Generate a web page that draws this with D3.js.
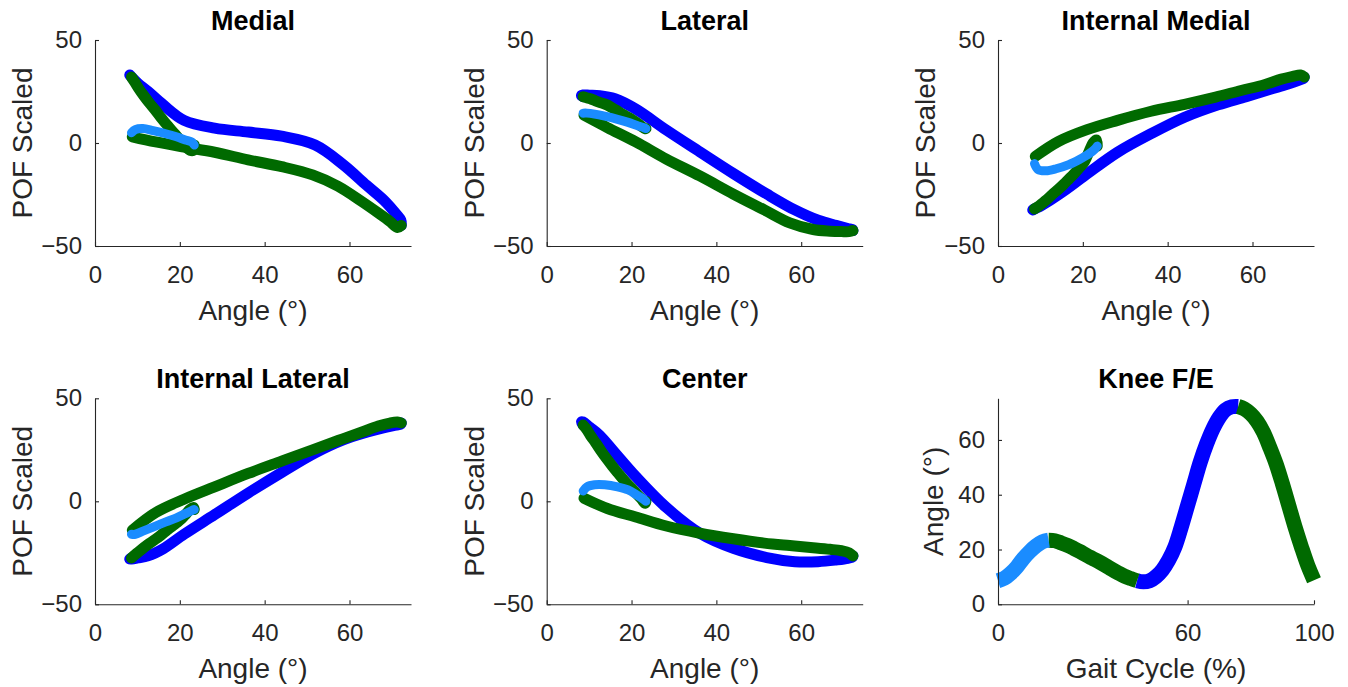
<!DOCTYPE html>
<html>
<head>
<meta charset="utf-8">
<script src="https://cdn.jsdelivr.net/npm/d3@7"></script>
<style>
  body { margin: 0; background: #fff; }
  svg text { font-family: "Liberation Sans", Arial, Helvetica, sans-serif; }
</style>
</head>
<body>
<svg id="fig" width="1348" height="687"></svg>
<script>
// gait cycle samples (%), mean knee flexion (deg) and scaled POF output per sensor
const gaitCycle = [0, 2, 4, 6, 8, 10, 12, 14, 16, 18, 20, 22, 24, 26, 28, 30, 32, 34, 36, 38, 40, 42, 44, 46, 48, 50,
    52, 54, 56, 58, 60, 62, 64, 66, 68, 70, 72, 74, 76, 78, 80, 82, 84, 86, 88, 90, 92, 94, 96, 98, 100];
const kneeAngle = [8.6, 9.5, 11.3, 13.7, 16.7, 19.2, 21.3, 22.8, 23.4, 23.2, 22.4, 21.5, 20.4, 19.2, 17.9, 16.7, 15.5,
    14.2, 12.8, 11.5, 10.3, 9.4, 8.6, 8.2, 8.6, 10.1, 12.5, 16.1, 21.0, 28.2, 36.1, 44.0, 51.9, 58.5, 64.0, 68.2, 71.0,
    72.1, 72.2, 71.3, 69.5, 66.8, 62.8, 57.3, 51.3, 44.0, 36.1, 28.2, 21.0, 14.3, 8.8];

const medial = [5, 6.5, 7, 6, 4.5, 3, 1.5, 0.5, -1,
    -3.5, -3.5, -2, 0.5, 3.5, 6.5, 9.5, 12.5, 16, 19.5, 23, 26.5, 29.5, 32,
    33, 32, 29, 25, 18.5, 11, 7.2, 5.3, 3.3, -1, -10.5, -20.5, -28, -34.5, -37.5, -40,
    -41, -38, -34, -28.3, -21, -15.5, -11.5, -8.2, -4.5, -2, 0.5, 3];
const lateral = [14.5, 14.5, 14, 13, 11.5, 10, 8.5, 7.5, 7,
    7, 8, 9.5, 11, 12.5, 14, 15.5, 17, 18.5, 19.5, 20.5, 21.5, 22, 22.5,
    23, 23.3, 23.2, 23, 21.5, 16.5, 6.3, -4.3, -14.8, -24.8, -32.5, -37.5, -40, -41.5, -42, -42.5,
    -43, -43, -42.8, -42, -38.8, -32.5, -24.8, -16, -7.8, 0.5, 7.5, 13.5];
const internalMedial = [-10, -13, -13.5, -12.5, -10.5, -8, -5.5, -3, -1.5,
    1.5, 0, -4, -9, -12, -15, -17.5, -20, -22.5, -25, -27.5, -29.5, -31, -32,
    -32.5, -32, -30.5, -27.5, -22.5, -15, -4.5, 4.5, 12.5, 18.5, 22.5, 26, 28.5, 30.5, 31.5, 32,
    33, 32.3, 31, 28.3, 25.5, 22.3, 18.8, 15.4, 11, 6.5, 0.8, -6.5];
const internalLateral = [-16, -16, -14.5, -12.5, -10, -8, -6, -4.5, -4,
    -3, -4, -6, -8.5, -10.5, -12.5, -14.5, -16.5, -18.5, -20.5, -22.5, -24.5, -26, -27.5,
    -28, -28, -27.5, -26.5, -23, -16, -6.5, 4, 14, 23.5, 29.8, 33.5, 35.8, 37, 37.5, 38,
    38.5, 38, 36.5, 33.5, 29.5, 25, 19.5, 13.5, 7, 1, -5.5, -14];
const center = [5, 7, 8, 8, 7, 5.5, 3, 1, 0,
    -1, 1, 3, 5.5, 8, 11, 14, 17, 20.5, 24.5, 28.5, 32, 35, 37,
    38.5, 38.5, 36, 32, 23.5, 12, -3, -15.5, -22.8, -27.3, -29.3, -29.3, -28.5, -27.7, -27, -26.5,
    -25, -24, -23.3, -22.5, -21.5, -20.3, -18.2, -15.5, -12, -7.6, -3.5, 1.5];

// gait phases (% of cycle)
const phaseStart = [0, 16, 44, 76];
const phaseEnd = [16, 44, 76, 100];

const sensorTitles = ["Medial", "Lateral", "Internal Medial", "Internal Lateral", "Center"];
const sensorValues = [medial, lateral, internalMedial, internalLateral, center];
const angleTicks = [0, 20, 40, 60];
const pofTicks = [-50, 0, 50];
const gaitTicks = [0, 60, 100];
const kneeTicks = [0, 20, 40, 60];

// layout / style
const W = 316, H = 206;
const colLeft = [95, 546.7, 998];
const rowTop = [40, 398.3];
const phaseColor = ["#1a8cff", "#006a00", "#0000ff", "#006a00"];
const phaseWidth = [9, 11, 11, 11];
const drawOrder = [2, 3, 1, 0];
const axisColor = "#262626";

const svg = d3.select("#fig");

function phaseIndex(p) {
    return gaitCycle
        .map((g, i) => i)
        .filter((i) => gaitCycle[i] >= phaseStart[p] && gaitCycle[i] <= phaseEnd[p]);
}

function drawFrame(g, x, y, xTicks, yTicks) {
    const xAxis = d3.axisBottom(x).tickValues(xTicks).tickSizeInner(-4).tickSizeOuter(0).tickPadding(19.5);
    const yAxis = d3.axisLeft(y).tickValues(yTicks).tickSizeInner(-4).tickSizeOuter(0).tickPadding(13);

    const gx = g.append("g").attr("transform", `translate(0,${H})`).call(xAxis);
    const gy = g.append("g").call(yAxis);

    [gx, gy].forEach((a) => {
        a.attr("font-family", null).attr("font-size", null);
        a.selectAll("path, line").attr("stroke", axisColor).attr("stroke-width", 1.1);
        a.selectAll("text").attr("fill", axisColor).style("font-size", "24px");
    });
}

function drawLabels(g, title, xLabel, yLabel, yLabelOffset) {
    g.append("text")
        .attr("x", W / 2)
        .attr("y", -10)
        .attr("text-anchor", "middle")
        .style("font-size", "27px")
        .style("font-weight", "bold")
        .attr("fill", "#000")
        .text(title);

    g.append("text")
        .attr("x", W / 2)
        .attr("y", H + 74)
        .attr("text-anchor", "middle")
        .style("font-size", "28px")
        .attr("fill", axisColor)
        .text(xLabel);

    g.append("text")
        .attr("transform", `translate(${-yLabelOffset},${H / 2}) rotate(-90)`)
        .attr("text-anchor", "middle")
        .style("font-size", "28px")
        .attr("fill", axisColor)
        .text(yLabel);
}

// POF vs knee angle panels
sensorValues.forEach((vals, s) => {
    const g = svg
        .append("g")
        .attr("transform", `translate(${colLeft[s % 3]},${rowTop[Math.floor(s / 3)]})`);

    const x = d3.scaleLinear().domain([0, 74.5]).range([0, W]);
    const y = d3.scaleLinear().domain([-50, 50]).range([H, 0]);

    const line = d3
        .line()
        .x((i) => x(kneeAngle[i]))
        .y((i) => y(vals[i]))
        .curve(d3.curveCatmullRom.alpha(0.5));

    drawOrder.forEach((p) => {
        g.append("path")
            .datum(phaseIndex(p))
            .attr("d", line)
            .attr("fill", "none")
            .attr("stroke", phaseColor[p])
            .attr("stroke-width", phaseWidth[p])
            .attr("stroke-linejoin", "round")
            .attr("stroke-linecap", "round");
    });

    drawFrame(g, x, y, angleTicks, pofTicks);
    drawLabels(g, sensorTitles[s], "Angle (°)", "POF Scaled", 63);
});

// knee flexion over the gait cycle
{
    const g = svg.append("g").attr("transform", `translate(${colLeft[2]},${rowTop[1]})`);
    const x = d3.scaleLinear().domain([0, 100]).range([0, W]);
    const y = d3.scaleLinear().domain([0, 75.2]).range([H, 0]);

    const line = d3
        .line()
        .x((i) => x(gaitCycle[i]))
        .y((i) => y(kneeAngle[i]))
        .curve(d3.curveCatmullRom.alpha(0.5));

    drawOrder.forEach((p) => {
        g.append("path")
            .datum(phaseIndex(p))
            .attr("d", line)
            .attr("fill", "none")
            .attr("stroke", phaseColor[p])
            .attr("stroke-width", 15)
            .attr("stroke-linejoin", "round")
            .attr("stroke-linecap", "butt");
    });

    drawFrame(g, x, y, gaitTicks, kneeTicks);
    drawLabels(g, "Knee F/E", "Gait Cycle (%)", "Angle (°)", 55);
}
</script>
</body>
</html>
